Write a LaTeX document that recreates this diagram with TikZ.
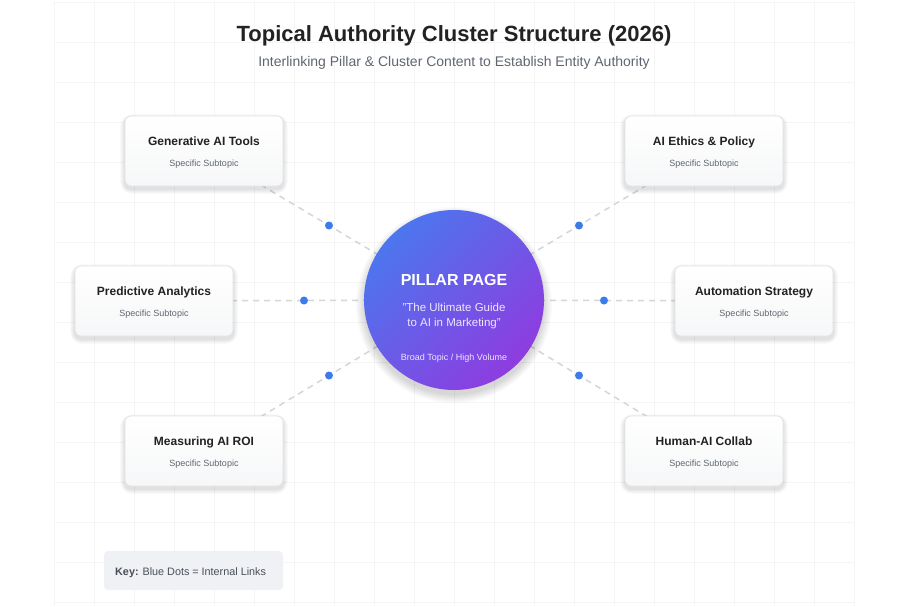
\documentclass[tikz,border=0pt]{standalone}
\usepackage{fontspec}
\setmainfont{Liberation Sans}
\usetikzlibrary{calc}
\definecolor{gridc}{HTML}{F5F5F5}
\definecolor{linec}{HTML}{D4D6DA}
\definecolor{dotc}{HTML}{3B7BEA}
\definecolor{titlec}{HTML}{222222}
\definecolor{subc}{HTML}{5F6670}
\definecolor{cardb}{HTML}{E2E4E7}
\definecolor{cardt}{HTML}{FFFFFF}
\definecolor{cardbot}{HTML}{F6F7F8}
\definecolor{pblue}{HTML}{4C76EE}
\definecolor{ppurple}{HTML}{8E3CE0}
\definecolor{keyc}{HTML}{EFF1F4}
\definecolor{keyt}{HTML}{4A4F57}
\definecolor{lav}{HTML}{EDE6FF}
\pgfdeclarelayer{bg}
\pgfdeclarelayer{lines}
\pgfsetlayers{bg,lines,main}
\tikzset{
  card/.style={draw=cardb, line width=0.8pt, rounded corners=6pt, minimum width=158pt, minimum height=70pt,
    top color=cardt, bottom color=cardbot},
  cardshadow/.style={fill=black, opacity=0.02},
  cardtitle/.style={anchor=base, text=titlec, font=\bfseries\fontsize{12}{14}\selectfont},
  cardsub/.style={anchor=base, text=subc, font=\fontsize{9}{11}\selectfont},
  link/.style={draw=linec, line width=1.5pt, dash pattern=on 6pt off 5pt},
  dot/.style={circle, fill=dotc, inner sep=0pt, minimum size=8pt},
  pillar/.style={circle, minimum size=180pt, inner sep=0pt, top color=pblue, bottom color=ppurple, shading angle=45, draw=none},
}
\newcommand{\mycard}[5]{%
  \coordinate (#1c) at (#2,#3);
  \foreach \i in {1,...,6} \fill[cardshadow, rounded corners={(6+\i)*1pt}]
     ($(#1c)+({-79-\i*0.8},{-35-\i*0.8+3})$) rectangle ($(#1c)+({79+\i*0.8},{35+\i*0.8+3})$);
  \node[card] (#1) at (#1c) {};
  \node[cardtitle] (#1t) at ($(#1)+(0,-5.5)$) {#4};
  \node[cardsub] (#1s) at ($(#1)+(0,15)$) {#5};
}
\begin{document}
\begin{tikzpicture}[x=1pt,y=-1pt]
\useasboundingbox (0,0) rectangle (913,606);
\begin{pgfonlayer}{bg}
\fill[white] (0,0) rectangle (913,606);
\foreach \x in {54,94,...,854} \draw[gridc, line width=0.7pt] (\x,2) -- (\x,606);
\foreach \y in {2,42,...,602} \draw[gridc, line width=0.7pt] (54,\y) -- (854,\y);
\end{pgfonlayer}

\node[anchor=base, text=titlec, font=\bfseries\fontsize{22}{26}\selectfont] (title) at (454,41) {Topical Authority Cluster Structure (2026)};
\node[anchor=base, text=subc, font=\fontsize{14}{16}\selectfont] (subtitle) at (454,66) {Interlinking Pillar \& Cluster Content to Establish Entity Authority};

\coordinate (pc) at (454,300);
\foreach \i in {1,...,10} \fill[black, opacity=0.016] ($(pc)+(0,5)$) circle ({89+\i*0.9});
\node[pillar] (p) at (pc) {};
\node[anchor=base, text=white, font=\bfseries\fontsize{16}{19}\selectfont] (pt) at (454,285.8) {PILLAR PAGE};
\node[anchor=base, text=lav, font=\fontsize{11.5}{14}\selectfont] (pq1) at (454,311.2) {"The Ultimate Guide};
\node[anchor=base, text=lav, font=\fontsize{11.5}{14}\selectfont] (pq2) at (454,326.2) {to AI in Marketing"};
\node[anchor=base, text=lav, font=\fontsize{9}{11}\selectfont] (pb) at (454,360.2) {Broad Topic / High Volume};

\mycard{g}{204}{151}{Generative AI Tools}{Specific Subtopic}
\mycard{pa}{154}{301}{Predictive Analytics}{Specific Subtopic}
\mycard{m}{204}{451}{Measuring AI ROI}{Specific Subtopic}
\mycard{e}{704}{151}{AI Ethics \& Policy}{Specific Subtopic}
\mycard{a}{754}{301}{Automation Strategy}{Specific Subtopic}
\mycard{h}{704}{451}{Human-AI Collab}{Specific Subtopic}

\begin{pgfonlayer}{lines}
\foreach \n in {g,pa,m,e,a,h} \draw[link] (\n.center) -- (p.center);
\end{pgfonlayer}

\node[dot] (dg) at ($(g.center)!0.5!(p.center)$) {};
\node[dot] (dpa) at ($(pa.center)!0.5!(p.center)$) {};
\node[dot] (dm) at ($(m.center)!0.5!(p.center)$) {};
\node[dot] (de) at ($(e.center)!0.5!(p.center)$) {};
\node[dot] (da) at ($(a.center)!0.5!(p.center)$) {};
\node[dot] (dh) at ($(h.center)!0.5!(p.center)$) {};

\node[fill=keyc, rounded corners=4pt, minimum width=179pt, minimum height=39pt, inner sep=0pt] (key) at (193.5,570.5) {};
\node[anchor=base west, text=keyt, font=\fontsize{10.8}{12}\selectfont, inner sep=0pt] (keyt) at (115,575.5) {\textbf{Key:} Blue Dots = Internal Links};
\end{tikzpicture}
\end{document}
